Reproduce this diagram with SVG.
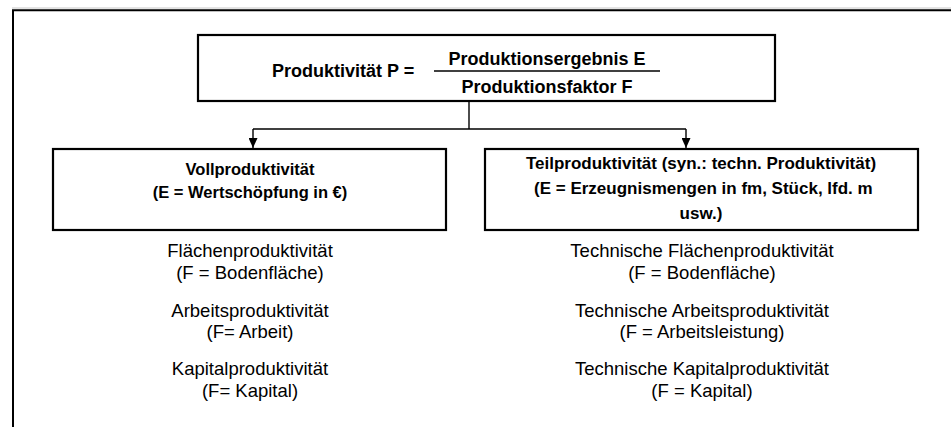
<svg xmlns="http://www.w3.org/2000/svg" width="951" height="427" viewBox="0 0 951 427">
  <style>
    .box { fill: #fff; stroke: #000; stroke-width: 2.2; }
    .frame { fill: none; stroke: #000; stroke-width: 2; }
    .f { font-family: "Liberation Sans", Arial, sans-serif; font-weight: bold; font-size: 18px; fill: #000; text-anchor: middle; }
    .b { font-family: "Liberation Sans", Arial, sans-serif; font-weight: bold; font-size: 17px; fill: #000; text-anchor: middle; }
    .bs { font-size: 16.5px; }
    .r { font-family: "Liberation Sans", Arial, sans-serif; font-size: 18.5px; fill: #000; text-anchor: middle; }
    .conn { fill: none; stroke: #000; stroke-width: 1.4; }
  </style>
  <defs>
    <marker id="arrow" markerWidth="10" markerHeight="9" refX="10" refY="4.5" orient="auto" markerUnits="userSpaceOnUse">
      <path d="M0,0 L10,4.5 L0,9 Z" fill="#000"/>
    </marker>
  </defs>
  <rect width="951" height="427" fill="#fff"/>

  <!-- outer frame -->
  <line x1="12" y1="8" x2="951" y2="8" stroke="#c8c8c8" stroke-width="1"/>
  <path class="frame" d="M13,427 V10.3 H951"/>

  <!-- connectors -->
  <g id="connectors">
    <path class="conn" d="M469,101 V129"/>
    <path class="conn" d="M253,129 H686"/>
    <path class="conn" d="M253,129 V148" marker-end="url(#arrow)"/>
    <path class="conn" d="M686,129 V148" marker-end="url(#arrow)"/>
  </g>

  <!-- formula box -->
  <g id="node-formula">
    <rect class="box" x="198" y="35" width="577" height="66"/>
    <text class="f" x="335.5" y="77">Produktivität P</text>
    <text class="f" x="409" y="77">=</text>
    <text class="f" x="547" y="65">Produktionsergebnis E</text>
    <line x1="434" y1="71" x2="660" y2="71" stroke="#000" stroke-width="1.5"/>
    <text class="f" x="547" y="93">Produktionsfaktor F</text>
  </g>

  <!-- full productivity -->
  <g id="node-voll">
    <rect class="box" x="53" y="149" width="393" height="81"/>
    <text class="b bs" x="250" y="175">Vollproduktivität</text>
    <text class="b bs" x="250" y="198">(E = Wertschöpfung in €)</text>
  </g>

  <!-- partial productivity -->
  <g id="node-teil">
    <rect class="box" x="485" y="149" width="433" height="81"/>
    <text class="b" x="701" y="169">Teilproduktivität (syn.: techn. Produktivität)</text>
    <text class="b" x="701" y="194" xml:space="preserve"> (E = Erzeugnismengen in fm, Stück, lfd. m</text>
    <text class="b" x="701" y="219">usw.)</text>
  </g>

  <!-- full productivity measures -->
  <g id="node-voll-list">
    <text class="r" x="250" y="257">Flächenproduktivität</text>
    <text class="r" x="250" y="279">(F = Bodenfläche)</text>
    <text class="r" x="250" y="317">Arbeitsproduktivität</text>
    <text class="r" x="250" y="338">(F= Arbeit)</text>
    <text class="r" x="250" y="375">Kapitalproduktivität</text>
    <text class="r" x="250" y="397">(F= Kapital)</text>
  </g>

  <!-- technical productivity measures -->
  <g id="node-teil-list">
    <text class="r" x="702" y="257">Technische Flächenproduktivität</text>
    <text class="r" x="702" y="279">(F = Bodenfläche)</text>
    <text class="r" x="702" y="317">Technische Arbeitsproduktivität</text>
    <text class="r" x="702" y="338">(F = Arbeitsleistung)</text>
    <text class="r" x="702" y="375">Technische Kapitalproduktivität</text>
    <text class="r" x="702" y="397">(F = Kapital)</text>
  </g>
</svg>
